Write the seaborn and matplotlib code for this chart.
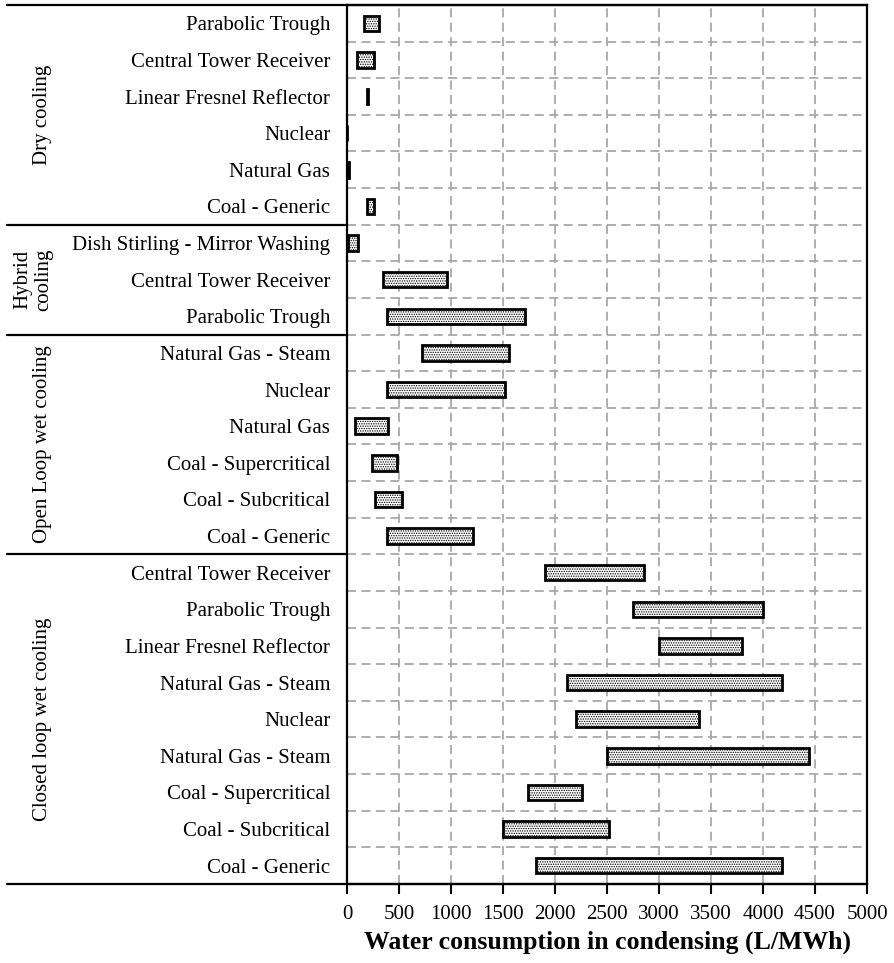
import numpy as np
import pandas as pd
import matplotlib
matplotlib.use("Agg")
import matplotlib.pyplot as plt
import matplotlib.transforms as mtransforms
import seaborn as sns

# ---------------- data ----------------
groups = ["Dry cooling", "Hybrid\ncooling", "Open Loop wet cooling", "Closed loop wet cooling"]
dry_labels = ["Parabolic Trough", "Central Tower Receiver", "Linear Fresnel Reflector",
              "Nuclear", "Natural Gas", "Coal - Generic"]
dry_low = [160, 100, 190, 0, 0, 190]
dry_high = [310, 260, 205, 0, 20, 260]

hybrid_labels = ["Dish Stirling - Mirror Washing", "Central Tower Receiver", "Parabolic Trough"]
hybrid_low = [5, 350, 380]
hybrid_high = [110, 960, 1710]

open_labels = ["Natural Gas - Steam", "Nuclear", "Natural Gas", "Coal - Supercritical",
               "Coal - Subcritical", "Coal - Generic"]
open_low = [720, 380, 75, 240, 270, 380]
open_high = [1560, 1520, 390, 480, 530, 1210]

closed_labels = ["Central Tower Receiver", "Parabolic Trough", "Linear Fresnel Reflector",
                 "Natural Gas - Steam", "Nuclear", "Natural Gas - Steam",
                 "Coal - Supercritical", "Coal - Subcritical", "Coal - Generic"]
closed_low = [1900, 2750, 3000, 2120, 2200, 2500, 1740, 1500, 1820]
closed_high = [2860, 4000, 3800, 4180, 3380, 4440, 2260, 2520, 4180]

x_ticks = [0, 500, 1000, 1500, 2000, 2500, 3000, 3500, 4000, 4500, 5000]
x_label = "Water consumption in condensing (L/MWh)"

# ---------------- table ----------------
all_labels = dry_labels + hybrid_labels + open_labels + closed_labels
all_low = dry_low + hybrid_low + open_low + closed_low
all_high = dry_high + hybrid_high + open_high + closed_high
group_sizes = [len(dry_labels), len(hybrid_labels), len(open_labels), len(closed_labels)]
row_ids = [f"r{i:02d}" for i in range(len(all_labels))]
df = pd.DataFrame({"row": row_ids, "label": all_labels,
                   "low": all_low, "high": all_high})
df["span"] = df["high"] - df["low"]

# ---------------- style ----------------
sns.set_theme(style="white")
plt.rcParams["font.family"] = ["Liberation Serif", "DejaVu Serif"]
plt.rcParams["text.color"] = "black"
plt.rcParams["xtick.color"] = "black"
plt.rcParams["ytick.color"] = "black"
plt.rcParams["axes.labelcolor"] = "black"
plt.rcParams["hatch.linewidth"] = 0.65
plt.rcParams["hatch.color"] = "black"

fig = plt.figure(figsize=(8.95, 9.63), dpi=100)
ax = fig.add_axes([347 / 895, 1 - 884 / 963, (867 - 347) / 895, (884 - 5) / 963])

sns.barplot(data=df, x="span", y="row", order=row_ids, orient="h",
            color="white", edgecolor="black", linewidth=2.0, width=0.42,
            ax=ax, zorder=3)
for patch, lo in zip(ax.patches, df["low"]):
    patch.set_x(lo)
    patch.set_hatch(".......")
    patch.set_facecolor("white")

ax.set_xlim(0, 5000)
ax.set_ylim(len(row_ids) - 0.5, -0.5)
ax.set_xticks(x_ticks)
ax.set_xticklabels([str(t) for t in x_ticks], fontsize=15)
ax.set_yticks(range(len(row_ids)))
ax.set_yticklabels(all_labels, fontsize=15)
ax.set_ylabel("")
ax.set_xlabel(x_label, fontsize=18.5, fontweight="bold", labelpad=5)
ax.tick_params(axis="y", length=0, pad=12)
ax.tick_params(axis="x", length=7, width=1.5, direction="out", pad=8, bottom=True)

# grid: vertical at ticks, horizontal between rows
ax.set_yticks(np.arange(-0.5, len(row_ids) + 0.5, 1), minor=True)
ax.grid(False)
ax.grid(axis="x", which="major", color="#a8a8a8", linestyle=(0, (5, 3)), linewidth=1.3, zorder=0)
ax.grid(axis="y", which="minor", color="#a8a8a8", linestyle=(0, (5, 3)), linewidth=1.3, zorder=0)
ax.tick_params(axis="y", which="minor", length=0)
ax.set_axisbelow(True)

for s in ["left", "right", "top", "bottom"]:
    ax.spines[s].set_visible(True)
    ax.spines[s].set_color("black")
    ax.spines[s].set_linewidth(1.6)

# group separators and labels
trans = mtransforms.blended_transform_factory(ax.transAxes, ax.transData)
x_left = (7 - 347) / (867 - 347)
bounds = np.cumsum([0] + group_sizes) - 0.5
for b in bounds:
    x_end = 1 if b in (bounds[0], bounds[-1]) else 0
    ax.plot([x_left, x_end], [b, b], color="black", linewidth=1.6,
            transform=trans, clip_on=False, zorder=5)
x_grp = (43 - 347) / (867 - 347)
for g, lo_b, hi_b in zip(groups, bounds[:-1], bounds[1:]):
    xg = (33 - 347) / (867 - 347) if "\n" in g else x_grp
    ax.text(xg, (lo_b + hi_b) / 2, g, rotation=90, ha="center", va="center",
            fontsize=15, transform=trans, linespacing=1.15, color="black")

fig.savefig("out.png", dpi=100)
